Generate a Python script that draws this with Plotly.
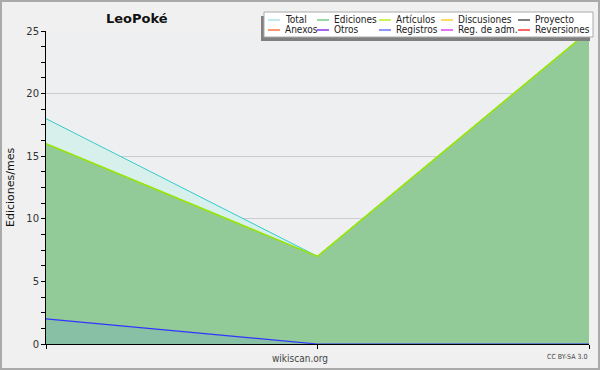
import plotly.graph_objects as go

# ---- data ----
months = [0, 1, 2]
total = [18, 7, 25]
ediciones = [16, 7, 25]
articulos = [16, 7, 25]
registros = [2, 0, 0]

legend_labels_row1 = ["Total", "Ediciones", "Artículos", "Discusiones", "Proyecto"]
legend_labels_row2 = ["Anexos", "Otros", "Registros", "Reg. de adm.", "Reversiones"]
legend_colors_row1 = ["#aee6e6", "#77cc88", "#bbee22", "#ffcc33", "#555555"]
legend_colors_row2 = ["#ff7744", "#8833ee", "#6677ff", "#dd44ee", "#ff3333"]

W, H = 600, 370
L, R, T, B = 46, 11, 31, 26
PW, PH = W - L - R, H - T - B

def px(x):
    return (x - L) / PW

def py(y):
    return 1 - (y - T) / PH

FONT = "DejaVu Sans"
LFONT = "DejaVu Sans Condensed, DejaVu Sans"

fig = go.Figure()
fig.add_trace(go.Scatter(x=months, y=total, mode="lines", fill="tozeroy",
                         line=dict(color="#33cccc", width=1), fillcolor="#d8f0ec",
                         showlegend=False, hoverinfo="skip"))
fig.add_trace(go.Scatter(x=months, y=ediciones, mode="lines", fill="tozeroy",
                         line=dict(color="#66cc66", width=1), fillcolor="#93cb98",
                         showlegend=False, hoverinfo="skip"))
fig.add_trace(go.Scatter(x=months, y=articulos, mode="lines",
                         line=dict(color="#99e600", width=1.5),
                         showlegend=False, hoverinfo="skip"))
fig.add_trace(go.Scatter(x=months, y=registros, mode="lines", fill="tozeroy",
                         line=dict(color="#3333ff", width=1.2), fillcolor="#87c0a5",
                         showlegend=False, hoverinfo="skip"))

shapes = []
annotations = []

# outer frame
shapes.append(dict(type="rect", xref="paper", yref="paper", layer="below",
                   x0=px(1), x1=px(W - 1), y0=py(1), y1=py(H - 1),
                   line=dict(color="#aaaaaa", width=2), fillcolor="rgba(0,0,0,0)"))

# legend shadow and box
shapes.append(dict(type="rect", xref="paper", yref="paper",
                   x0=px(261), x1=px(590), y0=py(16), y1=py(41),
                   line=dict(width=0), fillcolor="#808080"))
shapes.append(dict(type="rect", xref="paper", yref="paper",
                   x0=px(264), x1=px(593), y0=py(12), y1=py(37),
                   line=dict(color="#aaaaaa", width=1), fillcolor="#ffffff"))

col_sample_x = [268, 317, 379, 441, 518]
row_y = [20, 30]
for row, (labels, colors) in enumerate([(legend_labels_row1, legend_colors_row1),
                                        (legend_labels_row2, legend_colors_row2)]):
    for i, (lab, col) in enumerate(zip(labels, colors)):
        x0 = col_sample_x[i]
        y = row_y[row]
        shapes.append(dict(type="line", xref="paper", yref="paper",
                           x0=px(x0), x1=px(x0 + 12), y0=py(y), y1=py(y),
                           line=dict(color=col, width=1.5)))
        annotations.append(dict(xref="paper", yref="paper", x=px(x0 + 15), y=py(y - 0.5),
                                text=lab, showarrow=False, xanchor="left", yanchor="middle",
                                font=dict(family=LFONT, size=10, color="#222222")))

# title
annotations.append(dict(xref="paper", yref="paper", x=px(137), y=py(18), text="<b>LeoPoké</b>",
                        showarrow=False, xanchor="center", yanchor="middle",
                        font=dict(family=FONT, size=13, color="#111111")))
# y axis title
annotations.append(dict(xref="paper", yref="paper", x=px(10), y=py(188), text="Ediciones/mes",
                        showarrow=False, xanchor="center", yanchor="middle", textangle=-90,
                        font=dict(family=FONT, size=11, color="#111111")))
# bottom texts
annotations.append(dict(xref="paper", yref="paper", x=px(300), y=py(358), text="wikiscan.org",
                        showarrow=False, xanchor="center", yanchor="middle",
                        font=dict(family=LFONT, size=10, color="#444444")))
annotations.append(dict(xref="paper", yref="paper", x=px(589), y=py(357), text="CC BY-SA 3.0",
                        showarrow=False, xanchor="right", yanchor="middle",
                        font=dict(family=LFONT, size=7, color="#444444")))

fig.update_layout(
    width=W, height=H,
    margin=dict(l=L, r=R, t=T, b=B, pad=0),
    paper_bgcolor="#f0f0f0",
    plot_bgcolor="#eeeff1",
    shapes=shapes,
    annotations=annotations,
    showlegend=False,
    xaxis=dict(range=[0, 2], tickvals=months, ticktext=["", "", ""], ticks="outside",
               ticklen=4, tickcolor="#000000", showline=True, linecolor="#000000",
               linewidth=1, showgrid=False, zeroline=False, fixedrange=True),
    yaxis=dict(range=[0, 25], tickvals=[0, 5, 10, 15, 20, 25], ticks="outside",
               ticklen=4, tickcolor="#000000", showline=True, linecolor="#000000",
               linewidth=1, showgrid=True, gridcolor="#cccccc", gridwidth=1,
               zeroline=False, fixedrange=True,
               tickfont=dict(family=FONT, size=10, color="#333333"),
               minor=dict(dtick=1.25, tick0=0, ticks="outside", ticklen=4,
                          tickcolor="#000000", showgrid=False)),
)

fig.write_html("out.html")
